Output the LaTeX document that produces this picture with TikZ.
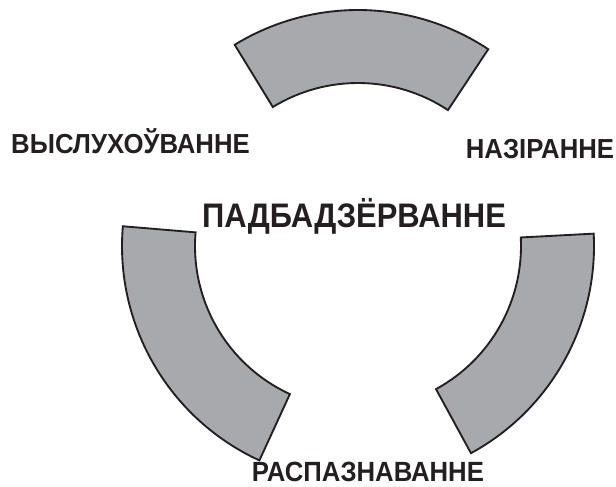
\documentclass[tikz,border=0pt]{standalone}
\usepackage{fontspec}
\setmainfont{Liberation Sans}
\begin{document}
\begin{tikzpicture}[x=0.75pt,y=0.75pt,
  sector/.style={fill=secgray,draw=outline,line width=1.4pt,line join=miter},
  lab/.style={font=\bfseries\fontsize{19.3}{22}\selectfont,text=outline,inner sep=0pt,anchor=base},
  biglab/.style={font=\bfseries\fontsize{23.2}{27}\selectfont,text=outline,inner sep=0pt,anchor=base}]
\definecolor{secgray}{HTML}{A7A9AC}
\definecolor{outline}{HTML}{231F20}
\useasboundingbox (0,0) rectangle (616,486);
\def\ri{163}\def\ro{236}
\begin{scope}[shift={(358,240)}]
  \draw[sector] (56.5:\ri) arc[start angle=56.5,end angle=121.5,radius=\ri]
    -- (121.5:\ro) arc[start angle=121.5,end angle=56.5,radius=\ro] -- cycle;
  \draw[sector] (175.2:\ri) arc[start angle=175.2,end angle=245.3,radius=\ri]
    -- (245.3:\ro) arc[start angle=245.3,end angle=175.2,radius=\ro] -- cycle;
  \draw[sector] (-61.4:\ri) arc[start angle=-61.4,end angle=3,radius=\ri]
    -- (3:\ro) arc[start angle=3,end angle=-61.4,radius=\ro] -- cycle;
\end{scope}
\node[lab] (vys) at (130.5,332) {\scalebox{1}[1.07]{ВЫСЛУХОЎВАННЕ}};
\node[lab] (naz) at (540,327) {\scalebox{1}[1.07]{НАЗІРАННЕ}};
\node[biglab] (pad) at (354,259) {\scalebox{1}[1.1]{ПАДБАДЗЁРВАННЕ}};
\node[lab] (ras) at (368,5) {\scalebox{1}[1.08]{РАСПАЗНАВАННЕ}};
\end{tikzpicture}
\end{document}
